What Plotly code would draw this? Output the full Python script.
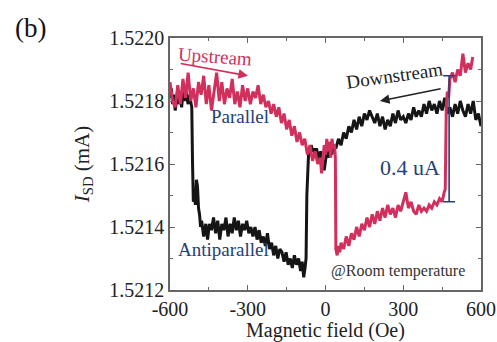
import plotly.graph_objects as go

# ---- data ----
black_x = [-600,-595,-590,-585,-580,-575,-570,-565,-560,-555,-550,-545,-540,-535,-530,-525,-520,-516,-513,-510,
           -506,-502,-498,-494,-490,-486,-482,-478,-470,-462,-455,-448,-440,-432,-424,-416,-408,-400,-392,-384,
           -376,-368,-360,-352,-344,-336,-328,-320,-312,-304,-296,-288,-280,-272,-264,-256,-248,-240,-232,-224,
           -216,-208,-200,-192,-184,-176,-168,-160,-152,-144,-136,-128,-120,-112,-104,-96,-90,-84,-79,-75,
           -72,-69,-65,-60,-55,-50,-45,-40,-35,-30,-25,-20,-15,-10,-5,0,5,10,15,20,
           25,30,40,50,60,70,80,90,100,110,120,130,140,150,160,170,180,190,200,210,
           220,230,240,250,260,270,280,290,300,310,320,330,340,350,360,370,380,390,400,410,
           420,430,440,450,460,470,480,490,500,510,520,530,540,550,560,570,580,590,600]
black_y = [1.52181,1.52184,1.52179,1.52182,1.52177,1.52180,1.52183,1.52179,1.52181,1.52178,1.52183,1.52180,1.52184,1.52181,1.52179,1.52182,1.52180,1.52178,1.52160,1.52148,
           1.52150,1.52147,1.52155,1.52153,1.52146,1.52144,1.52140,1.52142,1.52137,1.52141,1.52136,1.52141,1.52139,1.52143,1.52138,1.52142,1.52136,1.52141,1.52139,1.52143,
           1.52137,1.52141,1.52138,1.52143,1.52139,1.52142,1.52137,1.52141,1.52139,1.52142,1.52138,1.52140,1.52137,1.52140,1.52136,1.52139,1.52135,1.52137,1.52134,1.52138,
           1.52133,1.52135,1.52131,1.52134,1.52130,1.52133,1.52132,1.52129,1.52132,1.52128,1.52130,1.52127,1.52131,1.52128,1.52130,1.52126,1.52129,1.52124,1.52127,1.52130,
           1.52150,1.52160,1.52164,1.52163,1.52166,1.52164,1.52165,1.52162,1.52165,1.52163,1.52161,1.52164,1.52163,1.52160,1.52158,1.52161,1.52164,1.52162,1.52165,1.52167,
           1.52163,1.52166,1.52165,1.52168,1.52166,1.52170,1.52168,1.52172,1.52170,1.52174,1.52171,1.52175,1.52172,1.52176,1.52174,1.52177,1.52175,1.52173,1.52176,1.52172,
           1.52175,1.52171,1.52174,1.52172,1.52176,1.52173,1.52177,1.52174,1.52175,1.52173,1.52176,1.52174,1.52178,1.52175,1.52177,1.52175,1.52179,1.52176,1.52180,1.52177,
           1.52179,1.52176,1.52180,1.52177,1.52181,1.52176,1.52178,1.52175,1.52179,1.52176,1.52180,1.52177,1.52175,1.52179,1.52176,1.52180,1.52174,1.52176,1.52172]

red_x = [-600,-590,-580,-570,-560,-550,-540,-530,-520,-510,-500,-490,-480,-470,-460,-450,-440,-430,-420,-410,
         -400,-390,-380,-370,-360,-350,-340,-330,-320,-310,-300,-290,-280,-270,-260,-250,-240,-230,-220,-210,
         -200,-190,-180,-170,-160,-150,-140,-130,-120,-110,-100,-90,-80,-70,-60,-50,-40,-30,-20,-15,
         -10,-5,0,5,10,15,20,25,30,35,38,40,45,50,55,60,70,80,90,100,
         110,120,130,140,150,160,170,180,190,200,210,220,230,240,250,260,270,280,290,300,
         310,320,330,340,350,360,370,380,390,400,410,420,430,440,450,458,462,466,470,475,
         480,490,500,510,520,530,540,550,560,568]
red_y = [1.52186,1.52180,1.52178,1.52185,1.52179,1.52187,1.52181,1.52189,1.52180,1.52184,1.52178,1.52186,1.52182,1.52188,1.52179,1.52185,1.52177,1.52183,1.52189,1.52180,
         1.52186,1.52179,1.52184,1.52181,1.52187,1.52179,1.52183,1.52178,1.52185,1.52180,1.52184,1.52179,1.52183,1.52181,1.52185,1.52179,1.52182,1.52178,1.52180,1.52176,
         1.52179,1.52175,1.52178,1.52173,1.52176,1.52171,1.52174,1.52169,1.52172,1.52167,1.52170,1.52166,1.52168,1.52163,1.52166,1.52161,1.52164,1.52160,1.52162,1.52157,
         1.52161,1.52166,1.52163,1.52168,1.52164,1.52167,1.52162,1.52168,1.52165,1.52166,1.52162,1.52133,1.52131,1.52134,1.52132,1.52135,1.52133,1.52137,1.52134,1.52138,
         1.52136,1.52140,1.52137,1.52141,1.52139,1.52143,1.52140,1.52144,1.52141,1.52145,1.52142,1.52146,1.52143,1.52147,1.52144,1.52146,1.52143,1.52147,1.52145,1.52148,
         1.52151,1.52146,1.52148,1.52145,1.52144,1.52147,1.52145,1.52146,1.52145,1.52147,1.52146,1.52148,1.52147,1.52149,1.52148,1.52151,1.52152,1.52178,1.52183,1.52181,
         1.52187,1.52189,1.52186,1.52190,1.52188,1.52195,1.52189,1.52192,1.52190,1.52194]

bar_x = [477]
bar_center = [1.52168]
bar_half = [0.0002]

x_ticks = [-600, -300, 0, 300, 600]
y_ticks = [1.5212, 1.5214, 1.5216, 1.5218, 1.5220]

RED = "#D1305C"
NAVY = "#24407A"
FONT = "Liberation Serif"

fig = go.Figure()
fig.add_trace(go.Scatter(x=black_x, y=black_y, mode="lines",
                         line=dict(color="#151515", width=3), showlegend=False))
fig.add_trace(go.Scatter(x=red_x, y=red_y, mode="lines",
                         line=dict(color=RED, width=3), showlegend=False))
fig.add_trace(go.Scatter(x=bar_x, y=bar_center, mode="markers",
                         marker=dict(size=1, color="rgba(0,0,0,0)"),
                         error_y=dict(type="data", array=bar_half, color=NAVY,
                                      thickness=1.6, width=6),
                         showlegend=False))

ann = []
def txt(x, y, t, color, size, angle=0, xref="x", yref="y"):
    ann.append(dict(x=x, y=y, xref=xref, yref=yref, text=t, showarrow=False,
                    xanchor="center", yanchor="middle",
                    font=dict(family=FONT, size=size, color=color), textangle=angle))

def arrow(x0, y0, x1, y1, color):
    ann.append(dict(x=x1, y=y1, ax=x0, ay=y0, xref="x", yref="y", axref="x", ayref="y",
                    text="", showarrow=True, arrowhead=2, arrowsize=1.2, arrowwidth=1.6,
                    arrowcolor=color))

txt(-426, 1.52194, "Upstream", RED, 19, 4)
arrow(-565, 1.52192, -299, 1.52188, RED)
txt(268, 1.52188, "Downstream", "#222222", 19, -8)
arrow(450, 1.52184, 210, 1.52180, "#222222")
txt(-330, 1.52175, "Parallel", NAVY, 19)
txt(-395, 1.52133, "Antiparallel", NAVY, 19)
txt(326, 1.52159, "0.4 uA", NAVY, 22)
txt(280, 1.52126, "@Room temperature", "#333333", 16)
txt(-0.45, 1.04, "(b)", "#111111", 27, 0, "paper", "paper")

fig.update_layout(
    width=497, height=342,
    margin=dict(l=170, r=16, t=38, b=52, autoexpand=False),
    paper_bgcolor="white", plot_bgcolor="white",
    font=dict(family=FONT, size=20, color="#222222"),
    annotations=ann,
    xaxis=dict(range=[-600, 600], tickvals=x_ticks, ticktext=[str(v) for v in x_ticks],
               ticks="inside", ticklen=5, tickcolor="#666666", showline=True, linecolor="#666666",
               linewidth=1.5, mirror="ticks", showgrid=False, zeroline=False, automargin=False,
               minor=dict(tickvals=[-450, -150, 150, 450], ticks="inside", ticklen=3, tickcolor="#666666"),
               title=dict(text="Magnetic field (Oe)", font=dict(size=20), standoff=2),
               tickfont=dict(size=20)),
    yaxis=dict(range=[1.5212, 1.5220], tickvals=y_ticks, ticktext=["%.4f" % v for v in y_ticks],
               ticks="inside", ticklen=5, tickcolor="#666666", showline=True, linecolor="#666666",
               linewidth=1.5, mirror="ticks", showgrid=False, zeroline=False, automargin=False,
               minor=dict(tickvals=[1.5213, 1.5215, 1.5217, 1.5219], ticks="inside", ticklen=3, tickcolor="#666666"),
               title=dict(text="<i>I</i><sub>SD</sub> (mA)", font=dict(size=21), standoff=14),
               tickfont=dict(size=20)),
)

fig.write_html("out.html")
